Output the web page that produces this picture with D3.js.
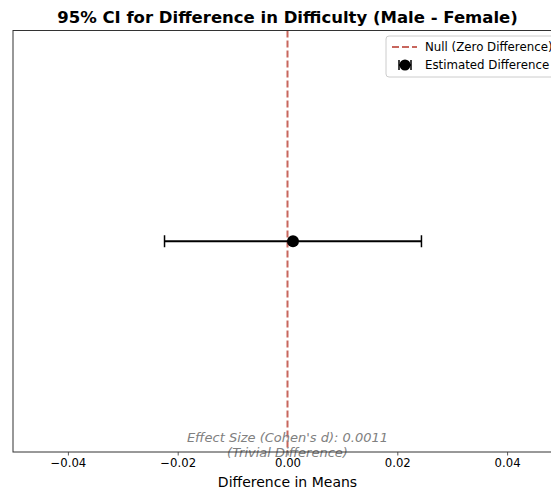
<!DOCTYPE html>
<html>
<head>
<meta charset="utf-8">
<script src="https://cdn.jsdelivr.net/npm/d3@7"></script>
<style>
  body { margin: 0; background: #fff; }
  svg { display: block; font-family: "DejaVu Sans", sans-serif; }
</style>
</head>
<body>
<div id="chart"></div>
<script>
// data
const estimate = [0.001];
const ciLower = [-0.0224];
const ciUpper = [0.0244];
const xTicks = [-0.04, -0.02, 0.00, 0.02, 0.04];
const legendLabels = ["Null (Zero Difference)", "Estimated Difference"];
const effectSize = "0.0011";
const effectLabel = "(Trivial Difference)";

const W = 551, H = 493;
const m = { left: 13, top: 30.5, right: -11, bottom: 41 };

const svg = d3.select("#chart").append("svg")
    .attr("width", W).attr("height", H);

const x = d3.scaleLinear().domain([-0.05, 0.05]).range([m.left, W - m.right]);
const y = d3.scaleLinear().domain([-1, 1]).range([H - m.bottom, m.top]);

// title
svg.append("text")
    .attr("x", x(0)).attr("y", 23)
    .attr("text-anchor", "middle")
    .attr("font-size", 16.5).attr("font-weight", "bold")
    .text("95% CI for Difference in Difficulty (Male - Female)");

// x axis
const xAxis = svg.append("g")
    .attr("transform", `translate(0,${H - m.bottom})`)
    .call(d3.axisBottom(x).tickValues(xTicks).tickSize(3.5).tickPadding(3.5)
        .tickFormat(d => d3.format(".2f")(d).replace("-", "\u2212")));
xAxis.select(".domain").remove();
xAxis.selectAll("line").attr("stroke", "#333").attr("stroke-width", 0.8);
xAxis.selectAll("text").attr("font-size", 11.7).attr("fill", "#000")
    .attr("font-family", "DejaVu Sans, sans-serif");

svg.append("text")
    .attr("x", x(0)).attr("y", 487)
    .attr("text-anchor", "middle")
    .attr("font-size", 14)
    .text("Difference in Means");

// null line
svg.append("line")
    .attr("x1", x(0)).attr("x2", x(0))
    .attr("y1", m.top).attr("y2", H - m.bottom)
    .attr("stroke", "#c8665d").attr("stroke-width", 2)
    .attr("stroke-dasharray", "7,3");

// error bar
const eb = svg.append("g");
eb.selectAll("line.bar").data(estimate).join("line")
    .attr("x1", (d, i) => x(ciLower[i])).attr("x2", (d, i) => x(ciUpper[i]))
    .attr("y1", y(0)).attr("y2", y(0))
    .attr("stroke", "#000").attr("stroke-width", 2);
[ciLower[0], ciUpper[0]].forEach(v => {
    eb.append("line")
        .attr("x1", x(v)).attr("x2", x(v))
        .attr("y1", y(0) - 6).attr("y2", y(0) + 6)
        .attr("stroke", "#000").attr("stroke-width", 1.5);
});
eb.selectAll("circle").data(estimate).join("circle")
    .attr("cx", d => x(d)).attr("cy", y(0)).attr("r", 6)
    .attr("fill", "#000");

// effect size annotation
svg.append("text")
    .attr("x", x(0)).attr("y", 442)
    .attr("text-anchor", "middle")
    .attr("font-size", 13).attr("font-style", "italic")
    .attr("fill", "#808080")
    .text(`Effect Size (Cohen's d): ${effectSize}`);
svg.append("text")
    .attr("x", x(0)).attr("y", 457)
    .attr("text-anchor", "middle")
    .attr("font-size", 13).attr("font-style", "italic")
    .attr("fill", "#808080")
    .text(effectLabel);

// frame
svg.append("rect")
    .attr("x", m.left).attr("y", m.top)
    .attr("width", W - m.right - m.left).attr("height", H - m.bottom - m.top)
    .attr("fill", "none").attr("stroke", "#333").attr("stroke-width", 1);

// legend
const lg = svg.append("g").attr("transform", "translate(386,36)");
lg.append("rect")
    .attr("width", 180).attr("height", 41).attr("rx", 3)
    .attr("fill", "#fff").attr("fill-opacity", 0.8)
    .attr("stroke", "#ccc");
lg.append("line")
    .attr("x1", 6).attr("x2", 31).attr("y1", 11).attr("y2", 11)
    .attr("stroke", "#c8665d").attr("stroke-width", 2)
    .attr("stroke-dasharray", "7,3");
lg.append("line")
    .attr("x1", 13).attr("x2", 25).attr("y1", 29).attr("y2", 29)
    .attr("stroke", "#000").attr("stroke-width", 2);
[13, 25].forEach(xx => lg.append("line")
    .attr("x1", xx).attr("x2", xx).attr("y1", 24).attr("y2", 34)
    .attr("stroke", "#000").attr("stroke-width", 1.5));
lg.append("circle").attr("cx", 19).attr("cy", 29).attr("r", 5.5).attr("fill", "#000");
lg.selectAll("text.lbl").data(legendLabels).join("text")
    .attr("x", 39).attr("y", (d, i) => 15 + i * 18)
    .attr("font-size", 11.8)
    .text(d => d);
</script>
</body>
</html>
